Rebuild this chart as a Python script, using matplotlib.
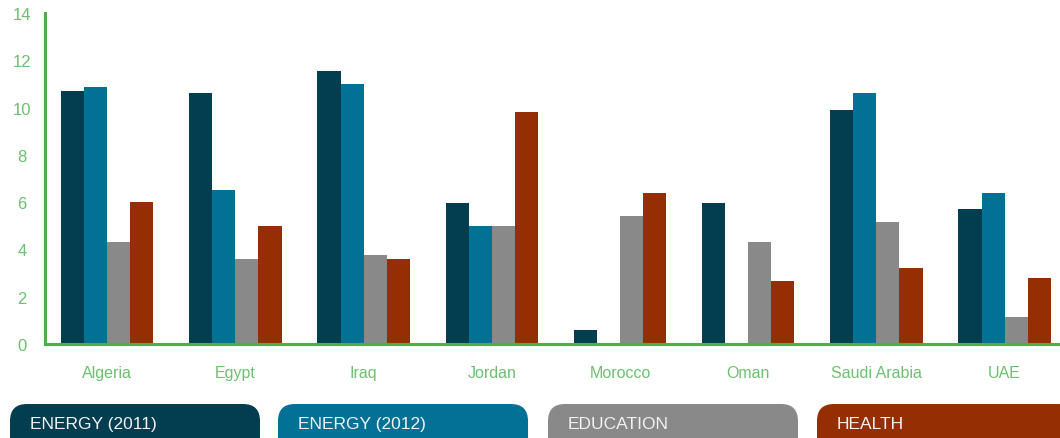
import matplotlib
matplotlib.use("Agg")
import matplotlib.pyplot as plt
from matplotlib.patches import FancyBboxPatch
import numpy as np

countries = ["Algeria", "Egypt", "Iraq", "Jordan", "Morocco", "Oman", "Saudi Arabia", "UAE"]
series_names = ["ENERGY (2011)", "ENERGY (2012)", "EDUCATION", "HEALTH"]
energy_2011 = [10.7, 10.6, 11.55, 5.95, 0.6, 5.95, 9.9, 5.7]
energy_2012 = [10.85, 6.5, 11.0, 5.0, 0.0, 0.0, 10.6, 6.4]
education = [4.3, 3.6, 3.75, 5.0, 5.4, 4.3, 5.15, 1.15]
health = [6.0, 5.0, 3.6, 9.8, 6.4, 2.65, 3.2, 2.8]
yticks = [0, 2, 4, 6, 8, 10, 12, 14]

colors = ["#033d50", "#017196", "#898989", "#952e03"]
green_axis = "#4cae4c"
green_text = "#6cc070"

plt.rcParams["font.family"] = ["Liberation Sans", "DejaVu Sans"]

W, H = 1060, 439
fig = plt.figure(figsize=(W / 100, H / 100), dpi=100)
ax = fig.add_axes([45 / W, (H - 345) / H, (W - 45) / W, (345 - 14) / H])

x = np.arange(len(countries))
bw = 0.18
for i, vals in enumerate([energy_2011, energy_2012, education, health]):
    ax.bar(x + (i - 1.5) * bw, vals, width=bw, color=colors[i], linewidth=0, zorder=2)

ax.set_xlim(-0.485, -0.485 + (W - 45) / 128.2)
ax.set_ylim(0, 14)
ax.set_yticks(yticks)
ax.set_xticks(x)
ax.set_xticklabels(countries)
for s in ["top", "right"]:
    ax.spines[s].set_visible(False)
for s in ["left", "bottom"]:
    ax.spines[s].set_color(green_axis)
    ax.spines[s].set_linewidth(2.2)
    ax.spines[s].set_zorder(3)
ax.tick_params(axis="both", length=0, colors=green_text)
ax.tick_params(axis="x", pad=15, labelsize=11.5)
ax.tick_params(axis="y", pad=16.5, labelsize=12)
for lbl in ax.get_yticklabels():
    lbl.set_horizontalalignment("center")

# Legend tabs along the bottom edge
tabs = [(10, 260), (278, 528), (548, 798), (817, 1075)]
for (x0, x1), c, name in zip(tabs, colors, series_names):
    patch = FancyBboxPatch((x0 / W, -20 / H), (x1 - x0) / W, (20 + 34) / H,
                           boxstyle="round,pad=0,rounding_size=0.016",
                           transform=fig.transFigure, facecolor=c,
                           edgecolor="none", clip_on=False, mutation_aspect=W / H)
    fig.patches.append(patch)
    fig.text((x0 + 20) / W, (H - 425) / H, name, color="#f2f2f2",
             fontsize=12.5, va="center", ha="left")

fig.savefig("out.png", dpi=100)
